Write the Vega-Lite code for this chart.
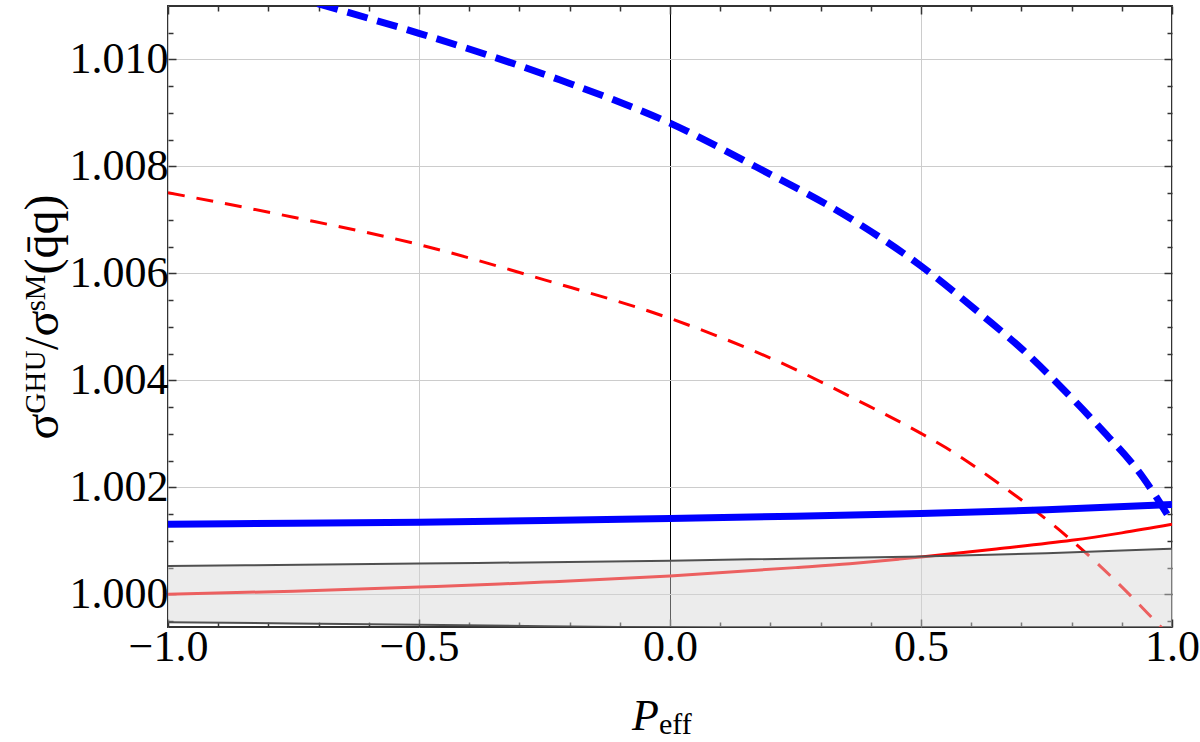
{
  "$schema": "https://vega.github.io/schema/vega-lite/v6.json",
  "width": 1004,
  "height": 621,
  "autosize": {"type": "none"},
  "padding": {"left": 168, "top": 6, "right": 28, "bottom": 115},
  "background": "white",
  "config": {
    "view": {"stroke": "#333333", "strokeWidth": 2},
    "font": "Liberation Serif"
  },
  "datasets": {
    "curves": [
      {"s": "rd", "P": -1.0, "r": 1.00751},
      {"s": "rd", "P": -0.75, "r": 1.00705},
      {"s": "rd", "P": -0.5, "r": 1.00654},
      {"s": "rd", "P": -0.25, "r": 1.00588},
      {"s": "rd", "P": 0.0, "r": 1.00516},
      {"s": "rd", "P": 0.242, "r": 1.00424},
      {"s": "rd", "P": 0.371, "r": 1.00364},
      {"s": "rd", "P": 0.5, "r": 1.00301},
      {"s": "rd", "P": 0.55, "r": 1.00274},
      {"s": "rd", "P": 0.636, "r": 1.0022},
      {"s": "rd", "P": 0.727, "r": 1.00157},
      {"s": "rd", "P": 0.8, "r": 1.00101},
      {"s": "rd", "P": 0.9, "r": 1.00014},
      {"s": "rd", "P": 0.975, "r": 0.99942},
      {"s": "rd", "P": 1.0, "r": 0.99918},
      {"s": "rs", "P": -1.0, "r": 1.0},
      {"s": "rs", "P": -0.75, "r": 1.00006},
      {"s": "rs", "P": -0.5, "r": 1.000137},
      {"s": "rs", "P": -0.339, "r": 1.000193},
      {"s": "rs", "P": -0.25, "r": 1.00023},
      {"s": "rs", "P": 0.0, "r": 1.000345},
      {"s": "rs", "P": 0.25, "r": 1.0005},
      {"s": "rs", "P": 0.358, "r": 1.000574},
      {"s": "rs", "P": 0.457, "r": 1.00066},
      {"s": "rs", "P": 0.5, "r": 1.0007},
      {"s": "rs", "P": 0.65, "r": 1.00085},
      {"s": "rs", "P": 0.8, "r": 1.00101},
      {"s": "rs", "P": 0.9, "r": 1.00115},
      {"s": "rs", "P": 1.0, "r": 1.00131},
      {"s": "bs", "P": -1.0, "r": 1.00131},
      {"s": "bs", "P": -0.75, "r": 1.00133},
      {"s": "bs", "P": -0.5, "r": 1.00135},
      {"s": "bs", "P": -0.25, "r": 1.00138},
      {"s": "bs", "P": 0.0, "r": 1.00142},
      {"s": "bs", "P": 0.25, "r": 1.00146},
      {"s": "bs", "P": 0.5, "r": 1.00151},
      {"s": "bs", "P": 0.75, "r": 1.00158},
      {"s": "bs", "P": 1.0, "r": 1.00168},
      {"s": "bd", "P": -1.0, "r": 1.0118},
      {"s": "bd", "P": -0.75, "r": 1.01117},
      {"s": "bd", "P": -0.686, "r": 1.011},
      {"s": "bd", "P": -0.5, "r": 1.01049},
      {"s": "bd", "P": -0.22, "r": 1.00962},
      {"s": "bd", "P": 0.0, "r": 1.00881},
      {"s": "bd", "P": 0.172, "r": 1.00799},
      {"s": "bd", "P": 0.364, "r": 1.007},
      {"s": "bd", "P": 0.5, "r": 1.00614},
      {"s": "bd", "P": 0.623, "r": 1.00521},
      {"s": "bd", "P": 0.703, "r": 1.00457},
      {"s": "bd", "P": 0.769, "r": 1.00397},
      {"s": "bd", "P": 0.855, "r": 1.00313},
      {"s": "bd", "P": 0.942, "r": 1.00219},
      {"s": "bd", "P": 1.0, "r": 1.00135}
    ],
    "band": [
      {"P": -1.0, "lo": 0.99948, "hi": 1.00053},
      {"P": -0.5, "lo": 0.99943, "hi": 1.000575},
      {"P": 0.0, "lo": 0.99938, "hi": 1.00063},
      {"P": 0.5, "lo": 0.99933, "hi": 1.00071},
      {"P": 0.75, "lo": 0.99931, "hi": 1.00077},
      {"P": 1.0, "lo": 0.99928, "hi": 1.000855}
    ],
    "labels": [
      {"t": "eff"}
    ]
  },
  "layer": [
    {
      "data": {"name": "curves"},
      "transform": [{"filter": "datum.s == 'rd'"}],
      "mark": {"type": "line", "color": "#ff0000", "strokeWidth": 3, "strokeDash": [17, 12], "clip": true, "interpolate": "monotone"},
      "encoding": {
        "x": {
          "field": "P", "type": "quantitative",
          "scale": {"domain": [-1, 1], "nice": false, "zero": false},
          "axis": {
            "orient": "bottom",
            "values": [-1, -0.9, -0.8, -0.7, -0.6, -0.5, -0.4, -0.3, -0.2, -0.1, 0, 0.1, 0.2, 0.3, 0.4, 0.5, 0.6, 0.7, 0.8, 0.9, 1],
            "labelExpr": "abs(datum.value*2 - round(datum.value*2)) < 0.000001 ? format(datum.value, '.1f') : ''",
            "labelFont": "Liberation Serif", "labelFontSize": 44, "labelColor": "#000000",
            "labelPadding": 6, "labelFlush": false, "labelOverlap": false,
            "domain": false,
            "tickColor": "#333333", "tickWidth": 1.5,
            "tickSize": {"condition": {"test": "abs(datum.value*2 - round(datum.value*2)) < 0.000001", "value": -8}, "value": -5},
            "grid": true,
            "gridColor": {"condition": {"test": "abs(datum.value) < 0.000001", "value": "#000000"}, "value": "#cccccc"},
            "gridOpacity": {"condition": {"test": "abs(datum.value*2 - round(datum.value*2)) < 0.000001", "value": 1}, "value": 0},
            "gridWidth": 1,
            "title": "P", "titleFont": "Liberation Serif", "titleFontStyle": "italic", "titleFontWeight": "normal",
            "titleFontSize": 44, "titleColor": "#000000", "titleX": 477, "titleY": 102, "titleBaseline": "alphabetic"
          }
        },
        "y": {
          "field": "r", "type": "quantitative",
          "scale": {"domain": [0.99939, 1.011], "nice": false, "zero": false},
          "axis": {
            "orient": "left",
            "values": [0.9995, 1.0, 1.0005, 1.001, 1.0015, 1.002, 1.0025, 1.003, 1.0035, 1.004, 1.0045, 1.005, 1.0055, 1.006, 1.0065, 1.007, 1.0075, 1.008, 1.0085, 1.009, 1.0095, 1.01, 1.0105],
            "labelExpr": "abs((datum.value-1)*500 - round((datum.value-1)*500)) < 0.0001 ? format(datum.value, '.3f') : ''",
            "labelFont": "Liberation Serif", "labelFontSize": 44, "labelColor": "#000000",
            "labelPadding": 8, "labelFlush": false, "labelOverlap": false,
            "domain": false,
            "tickColor": "#333333", "tickWidth": 1.5,
            "tickSize": {"condition": {"test": "abs((datum.value-1)*500 - round((datum.value-1)*500)) < 0.0001", "value": -8}, "value": -5},
            "grid": true,
            "gridColor": "#cccccc",
            "gridOpacity": {"condition": {"test": "abs((datum.value-1)*500 - round((datum.value-1)*500)) < 0.0001", "value": 1}, "value": 0},
            "gridWidth": 1,
            "title": "σᴳᴴᵁ/σˢᴹ(q̄q)", "titleFont": "Liberation Serif", "titleFontWeight": "normal",
            "titleFontSize": 48, "titleColor": "#000000", "titlePadding": 2
          }
        }
      }
    },
    {
      "data": {"name": "curves"},
      "transform": [{"filter": "datum.s == 'rs'"}],
      "mark": {"type": "line", "color": "#ff0000", "strokeWidth": 3, "clip": true, "interpolate": "monotone"},
      "encoding": {
        "x": {"field": "P", "type": "quantitative", "axis": {
          "orient": "top", "labels": false, "domain": false, "grid": false, "title": null,
          "values": [-1, -0.9, -0.8, -0.7, -0.6, -0.5, -0.4, -0.3, -0.2, -0.1, 0, 0.1, 0.2, 0.3, 0.4, 0.5, 0.6, 0.7, 0.8, 0.9, 1],
          "tickColor": "#333333", "tickWidth": 1.5,
          "tickSize": {"condition": {"test": "abs(datum.value*2 - round(datum.value*2)) < 0.000001", "value": -8}, "value": -5}
        }},
        "y": {"field": "r", "type": "quantitative", "axis": {
          "orient": "right", "labels": false, "domain": false, "grid": false, "title": null,
          "values": [0.9995, 1.0, 1.0005, 1.001, 1.0015, 1.002, 1.0025, 1.003, 1.0035, 1.004, 1.0045, 1.005, 1.0055, 1.006, 1.0065, 1.007, 1.0075, 1.008, 1.0085, 1.009, 1.0095, 1.01, 1.0105],
          "tickColor": "#333333", "tickWidth": 1.5,
          "tickSize": {"condition": {"test": "abs((datum.value-1)*500 - round((datum.value-1)*500)) < 0.0001", "value": -8}, "value": -5}
        }}
      }
    },
    {
      "data": {"name": "curves"},
      "transform": [{"filter": "datum.s == 'bs'"}],
      "mark": {"type": "line", "color": "#0000ff", "strokeWidth": 7, "clip": true, "interpolate": "monotone"},
      "encoding": {
        "x": {"field": "P", "type": "quantitative", "axis": null},
        "y": {"field": "r", "type": "quantitative", "axis": null}
      }
    },
    {
      "data": {"name": "curves"},
      "transform": [{"filter": "datum.s == 'bd'"}],
      "mark": {"type": "line", "color": "#0000ff", "strokeWidth": 7, "strokeDash": [21, 10], "clip": true, "interpolate": "monotone"},
      "encoding": {
        "x": {"field": "P", "type": "quantitative", "axis": null},
        "y": {"field": "r", "type": "quantitative", "axis": null}
      }
    },
    {
      "data": {"name": "band"},
      "mark": {"type": "area", "color": "#d4d4d4", "opacity": 0.45, "clip": true, "interpolate": "monotone"},
      "encoding": {
        "x": {"field": "P", "type": "quantitative", "axis": null},
        "y": {"field": "hi", "type": "quantitative", "axis": null},
        "y2": {"field": "lo"}
      }
    },
    {
      "data": {"name": "band"},
      "mark": {"type": "line", "color": "#505050", "strokeWidth": 2, "clip": true, "interpolate": "monotone"},
      "encoding": {
        "x": {"field": "P", "type": "quantitative", "axis": null},
        "y": {"field": "hi", "type": "quantitative", "axis": null}
      }
    },
    {
      "data": {"name": "band"},
      "mark": {"type": "line", "color": "#505050", "strokeWidth": 2, "clip": true, "interpolate": "monotone"},
      "encoding": {
        "x": {"field": "P", "type": "quantitative", "axis": null},
        "y": {"field": "lo", "type": "quantitative", "axis": null}
      }
    },
    {
      "data": {"name": "labels"},
      "mark": {"type": "text", "font": "Liberation Serif", "fontSize": 30, "align": "left", "baseline": "alphabetic", "color": "#000000", "clip": false, "dx": -11, "dy": 107},
      "encoding": {
        "text": {"field": "t"},
        "x": {"datum": 0, "type": "quantitative", "axis": null},
        "y": {"datum": 0.99939, "type": "quantitative", "axis": null}
      }
    }
  ],
  "resolve": {"axis": {"x": "independent", "y": "independent"}}
}
